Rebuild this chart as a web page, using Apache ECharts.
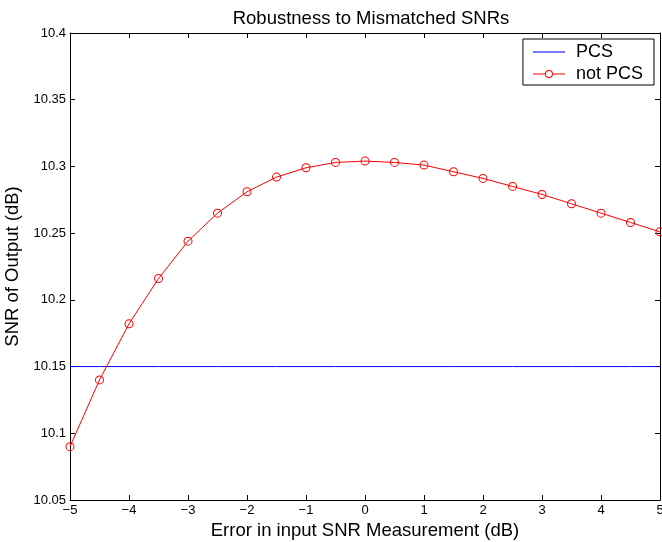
<!DOCTYPE html>
<html>
<head>
<meta charset="utf-8">
<script src="https://cdn.jsdelivr.net/npm/echarts@6/dist/echarts.min.js"></script>
<style>
html,body{margin:0;padding:0;background:#fff;}
#c{width:662px;height:542px;}
</style>
</head>
<body>
<div id="c"></div>
<script>
var xValues = [-5,-4.5,-4,-3.5,-3,-2.5,-2,-1.5,-1,-0.5,0,0.5,1,1.5,2,2.5,3,3.5,4,4.5,5];
var notPcsValues = [10.090,10.140,10.182,10.216,10.244,10.265,10.281,10.292,10.299,10.303,10.304,10.303,10.301,10.296,10.291,10.285,10.279,10.272,10.265,10.258,10.251];
var pcsValues = [10.15,10.15,10.15,10.15,10.15,10.15,10.15,10.15,10.15,10.15,10.15,10.15,10.15,10.15,10.15,10.15,10.15,10.15,10.15,10.15,10.15];
var titleText = 'Robustness to Mismatched SNRs';
var xLabel = 'Error in input SNR Measurement (dB)';
var yLabel = 'SNR of Output (dB)';

var font = '"Liberation Sans", Arial, Helvetica, sans-serif';
function pairs(xs, ys){ return xs.map(function(x,i){ return [x, ys[i]]; }); }

var lineIcon = 'path://M0,3 L32,3 L32,5 L0,5 Z';
var circleLineIcon = 'path://M0,3.5 L12,3.5 L12,4.5 L0,4.5 Z M20,3.5 L32,3.5 L32,4.5 L20,4.5 Z ' +
  'M12,4 A4,4 0 1,1 20,4 A4,4 0 1,1 12,4 Z ' +
  'M13,4 A3,3 0 1,0 19,4 A3,3 0 1,0 13,4 Z';
var ringSymbol = 'path://M0,4.5 A4.5,4.5 0 1,1 9,4.5 A4.5,4.5 0 1,1 0,4.5 Z ' +
  'M1,4.5 A3.5,3.5 0 1,0 8,4.5 A3.5,3.5 0 1,0 1,4.5 Z';

var chart = echarts.init(document.getElementById('c'), null, {renderer:'canvas'});
var axisLine = {show:true, onZero:false, lineStyle:{color:'#000', width:1}};
var tick = {show:true, inside:true, length:5, lineStyle:{color:'#000', width:1}};
chart.setOption({
  animation:false,
  backgroundColor:'#fff',
  title:{text:titleText, left:366, top:4, textAlign:'center',
    textStyle:{fontFamily:font, fontSize:18.5, fontWeight:'normal', color:'#000'}},
  grid:{left:70, right:2, top:33, bottom:42, containLabel:false, outerBoundsMode:'none'},
  legend:{
    right:8, top:39, orient:'vertical', backgroundColor:'#fff',
    borderColor:'#000', borderWidth:1, borderRadius:0, padding:[3,11,1,10],
    itemWidth:32, itemHeight:8, itemGap:2, symbolKeepAspect:true,
    itemStyle:{borderWidth:0},
    textStyle:{fontFamily:font, fontSize:18, color:'#000', lineHeight:20, padding:[0,0,0,6]},
    data:[{name:'PCS', icon:lineIcon, itemStyle:{color:'#7777ff', borderWidth:0}, lineStyle:{color:'#7777ff'}},
          {name:'not PCS', icon:circleLineIcon, itemStyle:{color:'#ff0000', borderWidth:0}}]
  },
  xAxis:[{
    type:'value', min:-5, max:5, interval:1, position:'bottom',
    name:xLabel, nameLocation:'middle', nameGap:21,
    nameTextStyle:{fontFamily:font, fontSize:18.5, color:'#000'},
    axisLine:axisLine, axisTick:tick, splitLine:{show:false},
    axisLabel:{fontFamily:font, fontSize:13, color:'#000', margin:4,
      formatter:function(v){ return String(v).replace('-', '\u2212'); }}
  },{
    type:'value', min:-5, max:5, interval:1, position:'top',
    axisLine:axisLine, axisTick:tick, splitLine:{show:false}, axisLabel:{show:false}
  }],
  yAxis:[{
    type:'value', min:10.05, max:10.4, interval:0.05, position:'left',
    name:yLabel, nameLocation:'middle', nameGap:38, nameRotate:90,
    nameTextStyle:{fontFamily:font, fontSize:18.5, color:'#000'},
    axisLine:axisLine, axisTick:tick, splitLine:{show:false},
    axisLabel:{fontFamily:font, fontSize:13, color:'#000', margin:4,
      formatter:function(v){ return String(parseFloat(v.toFixed(2))); }}
  },{
    type:'value', min:10.05, max:10.4, interval:0.05, position:'right',
    axisLine:axisLine, axisTick:tick, splitLine:{show:false}, axisLabel:{show:false}
  }],
  series:[{
    name:'PCS', type:'line', data:pairs(xValues, pcsValues),
    symbol:'none', lineStyle:{color:'#0000ff', width:1}, itemStyle:{color:'#7777ff', borderWidth:0},
    z:2
  },{
    name:'not PCS', type:'line', data:pairs(xValues, notPcsValues),
    symbol:ringSymbol, symbolSize:9, showAllSymbol:true,
    lineStyle:{color:'#ff0000', width:1},
    itemStyle:{color:'#ff0000', borderWidth:0},
    z:3
  }]
});
</script>
</body>
</html>
